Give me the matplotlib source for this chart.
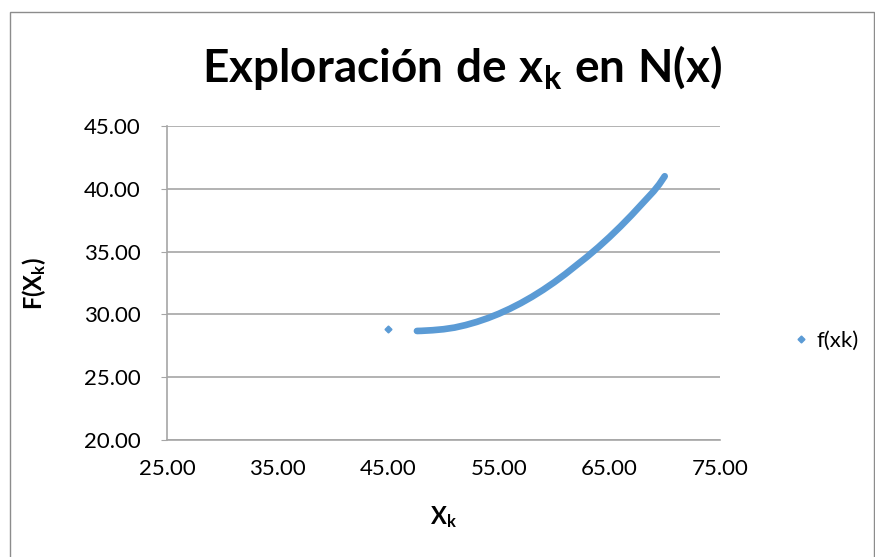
import matplotlib
matplotlib.use("Agg")
import matplotlib.pyplot as plt
from matplotlib.lines import Line2D
from matplotlib.patches import Rectangle

# values
x_iso = [45.0]
y_iso = [28.84]

xk = [47.6, 48.0, 49.0, 50.0, 51.0, 52.0, 53.0, 54.0, 55.0, 56.0, 57.0, 58.0,
      59.0, 60.0, 61.0, 62.0, 63.0, 64.0, 65.0, 66.0, 67.0, 68.0, 69.0, 69.5, 70.0]
fxk = [28.68, 28.69, 28.74, 28.82, 28.95, 29.15, 29.40, 29.70, 30.05, 30.45, 30.90, 31.40,
       31.95, 32.55, 33.20, 33.90, 34.60, 35.35, 36.15, 37.00, 37.90, 38.85, 39.80, 40.35, 41.00]

x_ticks = [25, 35, 45, 55, 65, 75]
y_ticks = [20, 25, 30, 35, 40, 45]

BLUE = '#5B9BD5'
GRID = '#A6A6A6'

plt.rcParams['font.family'] = ['Lato', 'DejaVu Sans']
plt.rcParams['mathtext.fontset'] = 'custom'
plt.rcParams['mathtext.rm'] = 'Lato'
plt.rcParams['mathtext.bf'] = 'Lato:bold'
plt.rcParams['mathtext.it'] = 'Lato:bold'

fig = plt.figure(figsize=(8.75, 5.57), dpi=100)
ax = fig.add_axes([167 / 875, 1 - 440 / 557, (720 - 167) / 875, (440 - 126) / 557])

# chart border like the spreadsheet chart frame
fig.patches.append(Rectangle((10 / 875, -0.01), 864 / 875, 1 - 12 / 557 + 0.01,
                             transform=fig.transFigure, fill=False,
                             edgecolor='#8C8C8C', linewidth=1))

# dense curve of points drawn as a thick trace, plus the isolated point
ax.plot(xk, fxk, color=BLUE, linewidth=4.8, solid_capstyle='round', zorder=3)
ax.plot(x_iso, y_iso, linestyle='none', marker='D', markersize=3.5, color=BLUE, zorder=3)

ax.set_xlim(25, 75)
ax.set_ylim(20, 45)
ax.set_xticks(x_ticks)
ax.set_yticks(y_ticks)
ax.set_xticklabels([f"{v:.2f}" for v in x_ticks], fontsize=16)
ax.set_yticklabels([f"{v:.2f}" for v in y_ticks], fontsize=16)
ax.tick_params(axis='x', length=0, pad=14)
ax.tick_params(axis='y', length=4, color=GRID, pad=15, direction='out')

ax.grid(axis='y', color=GRID, linewidth=1.2)
ax.set_axisbelow(True)
for side in ['top', 'right']:
    ax.spines[side].set_visible(False)
for side in ['left', 'bottom']:
    ax.spines[side].set_color(GRID)
    ax.spines[side].set_linewidth(1.2)

ax.set_xlabel(r"$\mathbf{X_k}$", fontsize=17)
ax.xaxis.set_label_coords(0.5, -0.205)
ax.set_ylabel(r"$\mathbf{F(X_k)}$", fontsize=17)
ax.yaxis.set_label_coords(-0.215, 0.5)

fig.text(0.528, 0.878, r"$\mathbf{Exploración\ de\ x_k\ en\ N(x)}$", fontsize=33,
         ha='center', va='center')

handle = Line2D([], [], linestyle='none', marker='D', markersize=3.5, color=BLUE)
fig.legend([handle], ['f(xk)'], loc='center left', bbox_to_anchor=(0.882, 0.388),
           frameon=False, fontsize=16, handletextpad=0.3, handlelength=0.8)

fig.savefig('out.png', dpi=100)
